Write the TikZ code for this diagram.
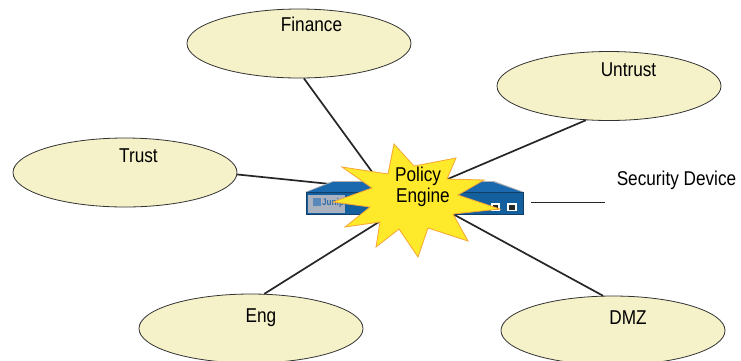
\documentclass[tikz,border=0pt]{standalone}
\usepackage{fontspec}
\setmainfont[FakeStretch=0.86]{Liberation Sans}
\usetikzlibrary{shapes.geometric}
\definecolor{zonefill}{HTML}{F5F1C8}
\definecolor{zoneline}{HTML}{333333}
\definecolor{burstfill}{HTML}{FFE92B}
\definecolor{burstline}{HTML}{F5A633}
\definecolor{devblue}{HTML}{14609F}
\definecolor{devtop}{HTML}{1A69AE}
\definecolor{devdark}{HTML}{123F68}
\definecolor{devpanel}{HTML}{A9B2BE}
\definecolor{logoblue}{HTML}{2F6CA8}
\tikzset{
  zone/.style={ellipse,draw=zoneline,line width=0.8pt,fill=zonefill,minimum width=224pt,minimum height=69pt,inner sep=0pt},
  label text/.style={anchor=base,inner sep=0pt,font=\fontsize{20}{21}\selectfont,text=black},
  link/.style={draw=black!85,line width=1.7pt},
}
\begin{document}
\begin{tikzpicture}[x=1pt,y=-1pt]
\clip (0,0) rectangle (741,360);
\fill[white] (0,0) rectangle (741,360);
% zones
\node[zone] (finance) at (299,43.5) {};
\node[zone] (trust) at (125,172.5) {};
\node[zone] (untrust) at (609,86) {};
\node[zone] (eng) at (251,328.5) {};
\node[zone] (dmz) at (613,330.5) {};
% free ends of the connectors, hidden under the device and the burst
\coordinate (hubF) at (378,180);
\coordinate (hubT) at (340,185);
\coordinate (hubU) at (436,184);
\coordinate (hubE) at (390,215);
\coordinate (hubD) at (440,207);
\coordinate (secA) at (531,202.5);
\coordinate (secB) at (605,202.5);
\draw[link] (finance.278) -- (hubF);
\draw[link] (trust.359) -- (hubT);
\draw[link] (untrust.236) -- (hubU);
\draw[link] (eng.69) -- (hubE);
\draw[link] (dmz.106) -- (hubD);
\draw[draw=black!85,line width=1.2pt] (secA) -- (secB);
% security device
\fill[black!30] (305,192) -- (333,181) -- (494,181) -- (524,192) -- cycle;
\fill[devtop] (306,192.5) -- (333,182) -- (493,182) -- (523,192.5) -- cycle;
\fill[devblue] (306,192) rectangle (523,214);
\draw[devdark,line width=0.8pt] (306,192.5) rectangle (523,214);
\fill[devpanel] (308,195) rectangle (345,212.5);
\fill[logoblue!80] (313,198) rectangle (321,206);
\node[anchor=base west,inner sep=0pt,text=logoblue,font=\fontsize{9.5}{10}\selectfont\bfseries] (logo) at (322,205) {Juniper};
\fill[white] (491,203) rectangle (500,211);
\fill[black!85] (493,205) rectangle (498,210);
\fill[white] (507,203) rectangle (517,211);
\fill[black!85] (509,205) rectangle (515,210);
% burst
\draw[fill=burstfill,draw=burstline,line width=0.8pt,line join=miter]
  (394,144) -- (414,166) -- (456,158) -- (447,179) -- (484,180) -- (458,195)
  -- (500,209) -- (453,214) -- (468,241) -- (428,228) -- (418,257) -- (399,229)
  -- (376,247) -- (380,222) -- (345,227) -- (370,207) -- (333,202) -- (372,188)
  -- (342,167) -- (388,174) -- cycle;
% labels
\node[label text] (tFinance) at (311.5,31) {Finance};
\node[label text] (tTrust) at (138.5,162) {Trust};
\node[label text] (tUntrust) at (628.5,76) {Untrust};
\node[label text] (tEng) at (261,322) {Eng};
\node[label text] (tDmz) at (628,324) {DMZ};
\node[label text] (tSec) at (676.5,185) {Security Device};
\node[label text,anchor=base west] (tPolicy) at (395,181) {Policy};
\node[label text,anchor=base west] (tEngine) at (396,202) {Engine};
\end{tikzpicture}
\end{document}
